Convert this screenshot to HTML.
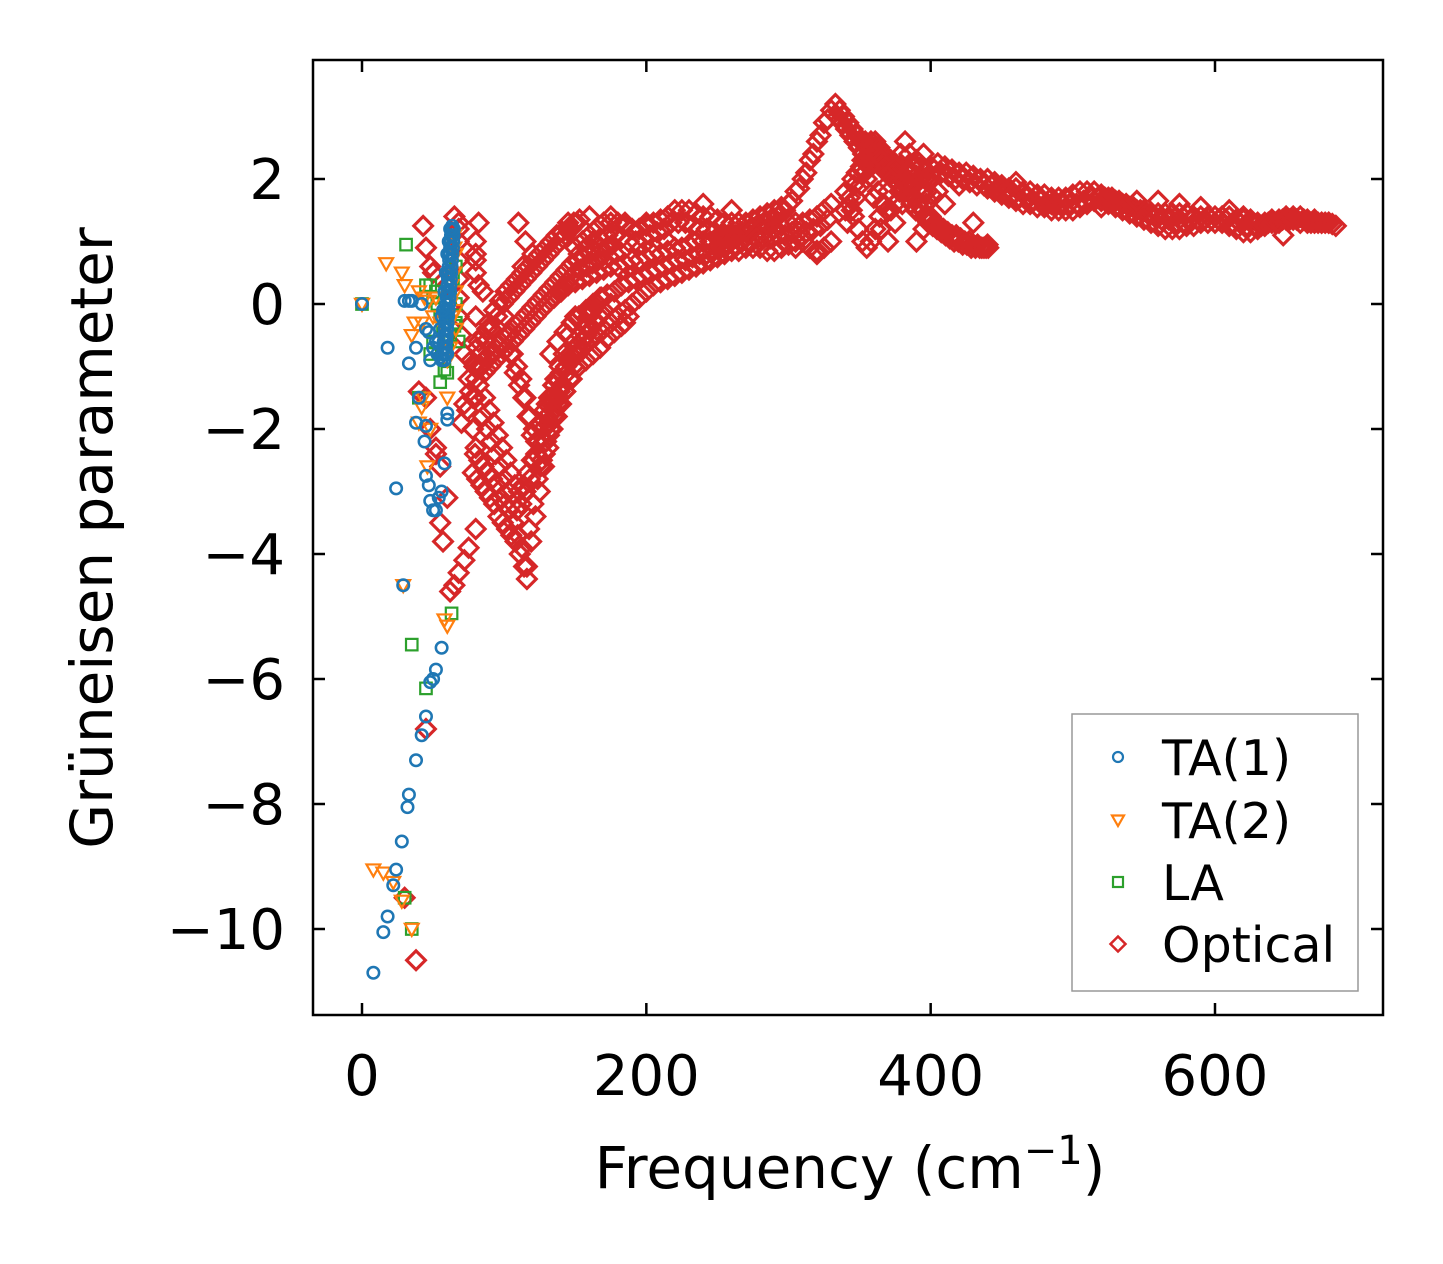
<!DOCTYPE html>
<html><head><meta charset="utf-8"><style>
html,body{margin:0;padding:0;background:#fff;}
svg{display:block;font-family:"DejaVu Sans","Liberation Sans",sans-serif;}
</style></head><body>
<svg id="chart" width="1443" height="1264" viewBox="0 0 1443 1264" xmlns="http://www.w3.org/2000/svg">
<rect x="0" y="0" width="1443" height="1264" fill="#fff"/>
<g id="marks"></g>
<g id="axes"></g>
<g id="legend"></g>
</svg>
<script>
const xTicks = [0, 200, 400, 600];
const yTicks = [2, 0, -2, -4, -6, -8, -10];
const seriesNames = ["TA(1)", "TA(2)", "LA", "Optical"];
const ta1 = [[0,0],[8,-10.7],[15,-10.05],[18,-9.8],[22,-9.3],[24,-9.05],[28,-8.6],[32,-8.05],[33,-7.85],[38,-7.3],[42,-6.9],[45,-6.6],[48,-6.05],[50,-6.0],[52,-5.85],[56,-5.5],[29,-4.5],[24,-2.95],[45,-2.75],[47,-2.9],[48,-3.15],[50,-3.3],[52,-3.3],[54,-3.1],[56,-3.0],[58,-2.55],[44,-2.2],[45,-1.95],[60,-1.75],[60,-1.85],[18,-0.7],[30,0.05],[33,0.05],[35,0.05],[33,-0.95],[38,-0.7],[42,0.0],[45,-0.4],[47,-0.45],[48,-0.9],[50,-0.7],[53,-0.8],[40,-1.5],[38,-1.9],
[56,-0.9],[56.5,-0.8],[57,-0.7],[57.5,-0.6],[57.8,-0.5],[58,-0.4],[58.3,-0.3],[58.6,-0.2],[59,-0.1],[59.3,0.0],[59.6,0.1],[60,0.2],[60.2,0.3],[60.5,0.4],[60.8,0.5],[61,0.6],[61.3,0.7],[61.6,0.8],[62,0.9],[62.3,1.0],[62.6,1.1],[63,1.2],[63.5,1.25],
[58,-0.9],[58.5,-0.8],[59,-0.7],[59.3,-0.6],[59.6,-0.5],[60,-0.4],[60.3,-0.3],[60.6,-0.2],[61,-0.1],[61.3,0.0],[61.6,0.1],[62,0.2],[62.2,0.3],[62.5,0.4],[62.8,0.5],[63,0.6],[63.3,0.7],[63.6,0.8],[64,0.9],[64.2,1.0],[64.4,1.1],[64.6,1.2],
[55,-0.85],[54,-0.6],[55,-0.4],[56,-0.2],[52,-0.6],[60,-0.8],[57,-0.1],[58,0.2],[59,0.5],[60,0.8],[61,1.0],[62,1.2]];
const ta2 = [[0,0],[8,-9.05],[15,-9.1],[22,-9.25],[28,-9.55],[35,-10.0],[29,-4.5],[17,0.65],[28,0.5],[30,0.3],[35,-0.5],[37,-0.3],[40,-1.9],[42,-1.65],[43,-1.5],[46,-2.6],[48,-2.0],[60,-5.15],[58,-5.05],[60,-1.5],[40,0.2],[50,-0.2],[52,0.1],[55,-0.3],[58,-0.6],[60,-0.9],[62,0.0],[65,0.5],[66,0.8],[66,-0.4],[64,-0.2],[63,0.3],[65,1.1],[62,-0.7],[47,0.05],[44,0.1],[42,-0.3],[66,0.2],[66,-0.1],[65,0.9]];
const la = [[0,0],[31,0.95],[35,-5.45],[45,-6.15],[63,-4.95],[35,-10],[30,-9.5],[40,-1.5],[45,0.3],[48,0.3],[50,0.1],[52,0.2],[55,-1.25],[58,-1.05],[60,-1.1],[62,-0.5],[65,-0.35],[68,-0.6],[48,-0.8],[50,-0.6],[53,0.0],[55,-0.2],[57,-0.4],[60,-0.2],[62,0.1],[64,0.4],[66,0.6],[58,-0.8],[66,0.0],[66,-0.3]];
const optical = [
[150,0.9],[155,1.0],[160,1.1],[165,1.2],[170,1.3],[175,1.3],[180,1.3],[185,1.25],[190,1.2],[195,1.2],[200,1.25],[205,1.3],[210,1.35],[215,1.4],[220,1.5],[225,1.5],[230,1.5],[235,1.45],[240,1.4],[245,1.4],[250,1.35],[255,1.3],[260,1.3],[265,1.3],[270,1.3],[275,1.35],[280,1.4],[285,1.45],[290,1.5],[295,1.55],[300,1.6],[305,1.8],[310,2.0],[315,2.3],[320,2.6],[325,2.9],[330,3.1],
[152.5,0.8],[157.5,0.9],[162.5,1.0],[167.5,1.05],[172.5,1.1],[177.5,1.1],[182.5,1.05],[187.5,1.0],[192.5,1.0],[197.5,1.05],[202.5,1.1],[207.5,1.15],[212.5,1.2],[217.5,1.3],[222.5,1.3],[227.5,1.3],[232.5,1.25],[237.5,1.2],[242.5,1.2],[247.5,1.15],[252.5,1.1],[257.5,1.1],[262.5,1.1],[267.5,1.15],[272.5,1.2],[277.5,1.25],[282.5,1.3],[287.5,1.35],[292.5,1.4],[297.5,1.5],[302.5,1.65],[307.5,1.85],[312.5,2.1],[317.5,2.4],[322.5,2.7],[327.5,2.95],
[130,0.0],[135,0.1],[140,0.2],[145,0.3],[150,0.35],[155,0.4],[160,0.45],[165,0.5],[170,0.55],[175,0.6],[180,0.6],[185,0.65],[190,0.7],[195,0.7],[200,0.75],[205,0.8],[210,0.8],[215,0.85],[220,0.9],[225,0.9],[230,0.95],[235,1.0],[240,1.0],[245,1.0],[250,1.05],[255,1.1],[260,1.1],[265,1.1],[270,1.15],[275,1.2],[280,1.2],[285,1.2],[290,1.2],[295,1.25],[300,1.3],[305,1.3],[310,1.3],[315,1.35],[320,1.4],[325,1.5],[330,1.6],
[132.5,-0.8],[137.5,-0.6],[142.5,-0.45],[147.5,-0.3],[152.5,-0.2],[157.5,-0.1],[162.5,0.0],[167.5,0.1],[172.5,0.15],[177.5,0.2],[182.5,0.3],[187.5,0.35],[192.5,0.4],[197.5,0.45],[202.5,0.5],[207.5,0.55],[212.5,0.6],[217.5,0.65],[222.5,0.7],[227.5,0.7],[232.5,0.75],[237.5,0.8],[242.5,0.8],[247.5,0.85],[252.5,0.9],[257.5,0.95],[262.5,0.95],[267.5,1.0],[272.5,1.0],[277.5,1.05],[282.5,1.05],[287.5,1.05],[292.5,1.1],[297.5,1.1],[302.5,1.15],[307.5,1.15],[312.5,1.15],[317.5,1.2],[322.5,1.25],[327.5,1.35],
[130,-1.6],[135,-1.3],[140,-1.1],[145,-0.9],[150,-0.8],[155,-0.7],[160,-0.6],[165,-0.5],[170,-0.4],[175,-0.3],[180,-0.2],[185,-0.1],[190,0.0],[195,0.1],[200,0.2],[205,0.3],[210,0.35],[215,0.4],[220,0.45],[225,0.5],[230,0.55],[235,0.6],[240,0.65],[245,0.7],[250,0.75],[255,0.8],[260,0.85],[265,0.85],[270,0.9],[275,0.9],[280,0.9],[285,0.85],[290,0.85],[295,0.9],[300,0.95],[305,1.0],[310,1.0],[315,0.9],[320,0.85],[325,0.9],[330,1.0],
[132.5,-1.9],[137.5,-1.6],[142.5,-1.4],[147.5,-1.2],[152.5,-1.0],[157.5,-0.9],[162.5,-0.8],[167.5,-0.7],[172.5,-0.55],[177.5,-0.45],[182.5,-0.35],[187.5,-0.2],
[70,-1.9],[74,-1.7],[78,-1.5],[82,-1.3],[86,-1.1],[90,-1.0],[94,-0.9],[98,-0.8],[102,-0.7],[106,-0.6],[110,-0.5],[114,-0.4],[118,-0.3],[122,-0.2],[126,-0.1],[130,0.0],[134,0.1],[138,0.2],[142,0.3],[146,0.4],[150,0.5],[154,0.55],[158,0.6],[162,0.65],[166,0.7],[170,0.7],[174,0.75],[178,0.8],
[72,-1.6],[76,-1.4],[80,-1.2],[84,-1.0],[88,-0.85],[92,-0.75],[96,-0.65],[100,-0.55],[104,-0.45],[108,-0.35],[112,-0.25],[116,-0.15],[120,-0.05],[124,0.05],[128,0.15],[132,0.25],[136,0.35],[140,0.45],[144,0.55],[148,0.65],[152,0.7],[156,0.75],[160,0.8],[164,0.85],[168,0.9],[172,0.9],[176,0.95],
[75,-1.2],[79,-1.0],[83,-0.8],[87,-0.6],[91,-0.4],[95,-0.2],[99,0.0],[103,0.1],[107,0.2],[111,0.3],[115,0.4],[119,0.5],[123,0.6],[127,0.7],[131,0.8],[135,0.9],[139,1.0],[143,1.1],[147,1.2],[151,1.3],
[77,-0.9],[81,-0.7],[85,-0.5],[89,-0.3],[93,-0.1],[97,0.05],[101,0.2],[105,0.3],[109,0.4],[113,0.5],[117,0.6],[121,0.7],[125,0.8],[129,0.9],[133,1.0],[137,1.1],[141,1.15],[145,1.2],[149,1.3],[153,1.35],
[78,-2.7],[81,-2.8],[84,-2.9],[87,-3.0],[90,-3.1],[93,-3.2],[96,-3.4],[99,-3.5],[102,-3.6],[105,-3.7],[108,-3.8],[111,-4.0],[114,-4.2],[116,-4.4],
[79.5,-2.4],[82.5,-2.5],[85.5,-2.6],[88.5,-2.7],[91.5,-2.8],[94.5,-2.9],[97.5,-3.1],[100.5,-3.2],[103.5,-3.3],[106.5,-3.5],[109.5,-3.7],[112.5,-3.9],
[116,-4.2],[119,-3.8],[122,-3.4],[125,-3.0],[128,-2.6],[131,-2.3],[134,-2.0],[137,-1.8],[140,-1.6],[143,-1.4],[146,-1.2],[149,-1.0],[152,-0.8],[155,-0.6],[158,-0.5],[161,-0.4],[164,-0.3],[167,-0.2],[170,-0.1],
[117.5,-3.6],[120.5,-3.2],[123.5,-2.8],[126.5,-2.5],[129.5,-2.2],[132.5,-2.0],[135.5,-1.7],[138.5,-1.5],[141.5,-1.3],[144.5,-1.1],[147.5,-0.9],[150.5,-0.7],[153.5,-0.5],[156.5,-0.35],[159.5,-0.2],[162.5,-0.1],[165.5,0.0],[168.5,0.1],
[85,-1.8],[88,-2.0],[91,-2.2],[94,-2.4],[97,-2.6],[100,-2.8],[103,-3.0],[106,-3.2],[109,-3.3],[112,-3.2],[115,-3.0],[118,-2.8],[121,-2.5],[124,-2.2],[127,-2.0],[130,-1.8],[133,-1.6],[136,-1.5],[139,-1.4],
[86.5,-1.5],[89.5,-1.7],[92.5,-1.9],[95.5,-2.1],[98.5,-2.3],[101.5,-2.5],[104.5,-2.7],[107.5,-2.9],[110.5,-3.0],[113.5,-2.9],[116.5,-2.7],[119.5,-2.5],[122.5,-2.2],[125.5,-1.9],[128.5,-1.7],[131.5,-1.5],[134.5,-1.3],[137.5,-1.2],
[100,-0.2],[103,-0.5],[106,-0.8],[109,-1.0],[112,-1.2],[115,-1.5],[118,-1.8],[121,-2.0],[124,-2.2],[127,-2.0],[130,-1.8],[133,-1.5],[136,-1.2],[139,-1.0],[142,-0.8],[145,-0.5],[148,-0.3],
[101.5,-0.5],[104.5,-0.8],[107.5,-1.1],[110.5,-1.3],[113.5,-1.5],[116.5,-1.8],[119.5,-2.1],[122.5,-2.4],[125.5,-2.6],[128.5,-2.4],[131.5,-2.1],[134.5,-1.8],[137.5,-1.5],[140.5,-1.3],[143.5,-1.0],[146.5,-0.8],[149.5,-0.6],
[45,-1.5],[48,-2.0],[52,-2.4],[55,-3.5],[57,-3.8],[60,-3.1],[62,-4.6],[65,-4.5],[68,-4.3],[72,-4.1],[75,-3.9],[80,-3.6],[45,-6.8],[38,-10.5],[30,-9.5],[65,1.4],[68,1.2],[43,1.25],[45,0.9],[48,0.6],[50,0.5],[60,0.3],[82,1.3],[80,0.8],[80,0.5],[85,0.2],[88,-0.4],[92,-0.8],
[68,1.3],[68,1.0],[68,0.7],[68,0.4],[68,0.1],[68,-0.2],[70,-0.5],[72,-0.8],[80,1.0],[80,0.7],[82,0.3],[80,-0.2],[82,-0.6],[82,-1.0],[80,-1.5],[78,-2.0],[80,-2.3],[40,-1.4],[52,-2.3],[55,-2.6],
[110,1.3],[115,1.0],[120,0.8],[113,0.6],[145,1.3],[160,1.4],[175,1.4],[185,1.3],[200,1.3],[240,1.6],[260,1.5],[195,1.2],[215,1.0],[255,0.9],[280,1.0],[305,0.9],[320,0.8],[150,-0.2],[160,-0.1],[175,0.0],[185,-0.3],
[333,3.2],[336,3.1],[339,3.0],[342,2.9],[345,2.8],[348,2.7],[351,2.6],[354,2.6],[357,2.55],[360,2.5],[363,2.5],[366,2.4],[369,2.35],[372,2.3],[375,2.25],[378,2.2],[381,2.15],[384,2.1],[387,2.1],[390,2.05],[393,2.0],[396,2.0],[399,1.95],
[334.5,3.0],[337.5,2.9],[340.5,2.8],[343.5,2.7],[346.5,2.6],[349.5,2.5],[352.5,2.4],[355.5,2.35],[358.5,2.3],[361.5,2.3],[364.5,2.25],[367.5,2.2],[370.5,2.15],[373.5,2.1],[376.5,2.05],[379.5,2.0],[382.5,1.95],[385.5,1.9],[388.5,1.9],[391.5,1.85],[394.5,1.8],[397.5,1.8],[400.5,1.75],
[340,1.5],[343,1.7],[346,1.9],[349,2.1],[352,2.3],[355,2.5],[358,2.6],[361,2.6],[364,2.5],[367,2.4],[370,2.3],[373,2.2],[376,2.1],[379,2.0],[382,1.9],[385,1.8],[388,1.7],[391,1.6],[394,1.5],[397,1.4],[400,1.35],[403,1.3],[406,1.25],[409,1.2],[412,1.15],[415,1.1],[418,1.1],[421,1.05],[424,1.0],[427,1.0],[430,0.95],[433,0.95],[436,0.9],[439,0.9],
[341.5,1.3],[344.5,1.5],[347.5,1.7],[350.5,1.9],[353.5,2.1],[356.5,2.3],[359.5,2.4],[362.5,2.4],[365.5,2.3],[368.5,2.2],[371.5,2.1],[374.5,2.0],[377.5,1.9],[380.5,1.8],[383.5,1.7],[386.5,1.6],[389.5,1.5],[392.5,1.45],[395.5,1.4],[398.5,1.3],[401.5,1.25],[404.5,1.2],[407.5,1.15],[410.5,1.1],[413.5,1.05],[416.5,1.0],[419.5,1.0],[422.5,0.95],[425.5,0.95],[428.5,0.9],[431.5,0.9],[434.5,0.9],[437.5,0.9],[440.5,0.9],
[340,1.8],[343,1.6],[346,1.4],[349,1.2],[352,1.0],[355,0.9],[358,1.0],[361,1.2],[364,1.4],[367,1.6],[370,1.8],[373,2.0],[376,2.2],[379,2.4],[382,2.6],[385,2.4],[388,2.2],[391,2.0],[394,1.8],[397,1.6],[400,1.4],
[345,2.0],[348,2.1],[351,2.2],[354,2.3],[357,2.2],[360,2.0],[363,1.8],[366,1.6],[369,1.5],[372,1.5],[375,1.6],[378,1.8],[381,2.0],[384,2.1],[387,2.2],[390,2.3],[393,2.2],[396,2.1],[399,2.0],
[400,2.2],[405,2.25],[410,2.2],[415,2.15],[420,2.1],[425,2.1],[430,2.05],[435,2.0],[440,2.0],[445,1.95],[450,1.9],[455,1.85],[460,1.85],[465,1.8],[470,1.8],[475,1.75],[480,1.75],[485,1.7],[490,1.7],[495,1.7],[500,1.75],[505,1.8],[510,1.8],[515,1.8],[520,1.75],[525,1.7],[530,1.65],[535,1.6],[540,1.55],[545,1.5],[550,1.5],[555,1.45],[560,1.45],[565,1.45],[570,1.45],[575,1.45],[580,1.45],[585,1.4],[590,1.4],[595,1.4],[600,1.4],[605,1.4],[610,1.4],[615,1.35],[620,1.35],[625,1.35],[630,1.3],[635,1.3],[640,1.35],[645,1.35],[650,1.4],[655,1.4],[660,1.4],[665,1.35],[670,1.35],[675,1.3],[680,1.3],[685,1.25],
[402.5,2.15],[407.5,2.1],[412.5,2.05],[417.5,2.0],[422.5,2.0],[427.5,1.95],[432.5,1.9],[437.5,1.9],[442.5,1.9],[447.5,1.85],[452.5,1.8],[457.5,1.75],[462.5,1.7],[467.5,1.7],[472.5,1.65],[477.5,1.65],[482.5,1.6],[487.5,1.6],[492.5,1.6],[497.5,1.6],[502.5,1.6],[507.5,1.65],[512.5,1.7],[517.5,1.7],[522.5,1.7],[527.5,1.7],[532.5,1.65],[537.5,1.6],[542.5,1.55],[547.5,1.5],[552.5,1.45],[557.5,1.4],[562.5,1.35],[567.5,1.35],[572.5,1.3],[577.5,1.3],[582.5,1.35],[587.5,1.35],[592.5,1.35],[597.5,1.35],[602.5,1.35],[607.5,1.35],[612.5,1.3],[617.5,1.3],[622.5,1.25],[627.5,1.25],[632.5,1.25],[637.5,1.3],[642.5,1.3],[647.5,1.35],[652.5,1.35],[657.5,1.35],[662.5,1.35],[667.5,1.3],[672.5,1.3],[677.5,1.3],[682.5,1.28],
[440,1.85],[445,1.8],[450,1.75],[455,1.7],[460,1.65],[465,1.6],[470,1.6],[475,1.55],[480,1.55],[485,1.5],[490,1.5],[495,1.5],[500,1.5],[505,1.55],[510,1.6],[515,1.65],[520,1.65],[525,1.6],[530,1.55],[535,1.5],[540,1.45],[545,1.4],[550,1.35],[555,1.3],[560,1.25],[565,1.2],[570,1.2],[575,1.2],[580,1.25],[585,1.25],[590,1.3],[595,1.3],[600,1.3],[605,1.3],[610,1.25],[615,1.2],[620,1.15],[625,1.15],[630,1.2],[635,1.25],[640,1.3],[645,1.3],[650,1.35],[655,1.35],[660,1.3],[665,1.3],[670,1.3],[675,1.3],[680,1.3],
[355,2.0],[360,1.7],[365,1.2],[370,1.0],[375,1.3],[380,1.6],[385,1.9],[390,1.0],[395,1.2],[410,1.6],[420,1.9],[430,1.3],[440,0.95],[395,2.4],[405,1.8],[648,1.1],[620,1.4],[575,1.6],[560,1.65],[590,1.55],[610,1.5],[460,1.95],[485,1.6],[520,1.55],[545,1.65]
];
const colors = ["#1f77b4","#ff7f0e","#2ca02c","#d62728"];
const PL=313, PR=1383, PT=60, PB=1015;
function xs(v){ return 362 + v*(1215-362)/600; }
function ys(v){ return 304 - v*(304-179)/2; }
const NS="http://www.w3.org/2000/svg";
function mk(tag, attrs, parent){ const e=document.createElementNS(NS,tag); for(const k in attrs) e.setAttribute(k, attrs[k]); parent.appendChild(e); return e; }
function marker(kind, cx, cy, parent, s){
  let e;
  if(kind===0){ e=mk("circle",{cx:cx,cy:cy,r:5*s,fill:"none",stroke:colors[0],"stroke-width":2.2*s},parent); }
  else if(kind===1){ e=mk("path",{d:`M${cx-6*s},${cy-4.5*s} L${cx+6*s},${cy-4.5*s} L${cx},${cy+6*s} Z`,fill:"none",stroke:colors[1],"stroke-width":2.2},parent); }
  else if(kind===2){ e=mk("rect",{x:cx-5*s,y:cy-5*s,width:10*s,height:10*s,fill:"none",stroke:colors[2],"stroke-width":2.2},parent); }
  else { const h=7.5*s; e=mk("path",{d:`M${cx},${cy-h} L${cx+h},${cy} L${cx},${cy+h} L${cx-h},${cy} Z`,fill:"none",stroke:colors[3],"stroke-width":2.5*s},parent); }
  return e;
}
const marks=document.getElementById("marks");
const seriesData=[ta1,ta2,la,optical];
const drawOrder=[3,2,1,0];
drawOrder.forEach(si=>{
  const g=mk("g",{},marks);
  
  
  seriesData[si].forEach(p=>{
    const m=marker(si, xs(p[0]), ys(p[1]), g, si===3?1.25:1.15);
    
    
  });
});
const axes=document.getElementById("axes");
const frame=mk("rect",{x:PL,y:PT,width:PR-PL,height:PB-PT,fill:"none",stroke:"#000","stroke-width":2.5},axes);


xTicks.forEach(t=>{
  const x=xs(t);
  mk("line",{x1:x,y1:PB,x2:x,y2:PB-12,stroke:"#000","stroke-width":2.5},axes);
  mk("line",{x1:x,y1:PT,x2:x,y2:PT+12,stroke:"#000","stroke-width":2.5},axes);
  const tx=mk("text",{x:x,y:1095,"text-anchor":"middle","font-size":56},axes);
  tx.textContent = t<0 ? "\u2212"+(-t) : String(t);
  
  
});
yTicks.forEach(t=>{
  const y=ys(t);
  mk("line",{x1:PL,y1:y,x2:PL+12,y2:y,stroke:"#000","stroke-width":2.5},axes);
  mk("line",{x1:PR,y1:y,x2:PR-12,y2:y,stroke:"#000","stroke-width":2.5},axes);
  const tx=mk("text",{x:285,y:y+20,"text-anchor":"end","font-size":56},axes);
  tx.textContent = t<0 ? "\u2212"+(-t) : String(t);
  
  
});
const xl=mk("text",{x:850,y:1188,"text-anchor":"middle","font-size":58},axes);
xl.innerHTML='Frequency (cm<tspan dy="-24" font-size="40">\u22121</tspan><tspan dy="24">)</tspan>';


const yl=mk("text",{x:0,y:0,"text-anchor":"middle","font-size":58,transform:"translate(112,538) rotate(-90)"},axes);
yl.textContent="Grüneisen parameter";


const leg=document.getElementById("legend");
const lb=mk("rect",{x:1072,y:714,width:286,height:277,fill:"#fff",stroke:"#999","stroke-width":1.5},leg);


const legY=[757,820,882,944];
seriesNames.forEach((n,i)=>{
  const g=mk("g",{},leg);
  
  
  marker(i,1118,legY[i],g,1);
  const t=mk("text",{x:1162,y:legY[i]+18,"font-size":49},g);
  t.textContent=n;
});
</script>
</body></html>
